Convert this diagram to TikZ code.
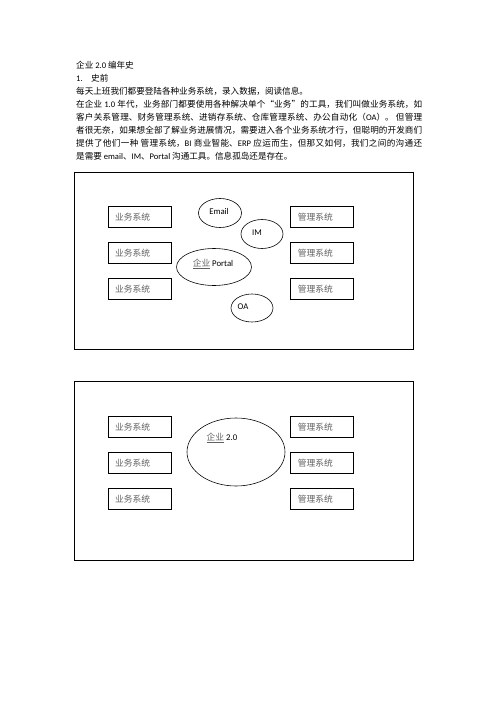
\documentclass[tikz,border=0pt]{standalone}
\usepackage{fontspec}
\setmainfont{Noto Sans CJK SC}
\newfontfamily\latnfont{Carlito}
\newcommand{\latn}[1]{{\latnfont #1}}
\usetikzlibrary{positioning,shapes.geometric}
\definecolor{boxtext}{gray}{0.38}
\XeTeXlinebreaklocale "zh"
\XeTeXlinebreakskip=0pt plus 1pt

\begin{document}
\begin{tikzpicture}[x=1.2pt, y=-1.2pt, node distance={17.4pt and 142.8pt},
        font=\fontsize{10.5pt}{12pt}\selectfont,
        frame/.style = {draw, line width=1pt, minimum width=406.8pt, inner sep=0},
        sysbox/.style = {draw, line width=1pt, minimum width=75.6pt, minimum height=24.6pt,
            text width=58.8pt, inner xsep=8.4pt, inner ysep=0, text=boxtext},
        bubble/.style = {draw, ellipse, line width=0.7pt, inner sep=0},
        lbl/.style = {inner sep=0}]

    \useasboundingbox (0,0) rectangle (496,702);

    % heading and text
    \node[anchor=base west, inner sep=0, text width=415.2pt, align=justify,
        font=\fontsize{10.3pt}{15.6pt}\selectfont] (intro) at (76,68.5) {%
        企业 \latn{2.0} 编年史\par
        \makebox[18pt][l]{\latn{1.}}史前\par
        每天上班我们都要登陆各种业务系统，录入数据，阅读信息。\par
        在企业 \latn{1.0} 年代，业务部门都要使用各种解决单个“业务”的工具，我们叫做业务系统，如\linebreak
        客户关系管理、财务管理系统、进销存系统、仓库管理系统、办公自动化（\latn{OA}）。 但管理\linebreak
        者很无奈，如果想全部了解业务进展情况，需要进入各个业务系统才行，但聪明的开发商们\linebreak
        提供了他们一种 管理系统，\latn{BI} 商业智能、\latn{ERP} 应运而生，但那又如何，我们之间的沟通还\linebreak
        是需要 \latn{email}、\latn{IM}、\latn{Portal} 沟通工具。信息孤岛还是存在。};

    % enterprise 1.0
    \node[frame, minimum height=212.4pt] (frame1) at (243.5,260.5) {};

    \node[sysbox] (biz1) at (139.5,217) {业务系统};
    \node[sysbox, below=of biz1] (biz2) {业务系统};
    \node[sysbox, below=of biz2] (biz3) {业务系统};
    \node[sysbox, right=of biz1] (mgmt1) {管理系统};
    \node[sysbox, right=of biz2] (mgmt2) {管理系统};
    \node[sysbox, right=of biz3] (mgmt3) {管理系统};

    \node[bubble, minimum width=51.6pt, minimum height=34.8pt] (email) at (220,213) {};
    \node[bubble, minimum width=50.4pt, minimum height=34.8pt] (im) at (262,234) {};
    \node[bubble, minimum width=90pt, minimum height=44.4pt] (portal) at (214,267) {};
    \node[bubble, minimum width=50.4pt, minimum height=33.6pt] (oa) at (252,308) {};

    \node[lbl] (emailtext) at (219,211) {\latn{Email}};
    \node[lbl] (imtext) at (257,233) {\latn{IM}};
    \node[lbl] (portaltext) at (213,264) {{\color{boxtext}\underline{企业}} \latn{Portal}};
    \node[lbl] (oatext) at (243,307) {\latn{OA}};

    % enterprise 2.0
    \node[frame, minimum height=214.8pt] (frame2) at (243.5,470.5) {};

    \node[sysbox] (biz4) at (139.5,427) {业务系统};
    \node[sysbox, below=of biz4] (biz5) {业务系统};
    \node[sysbox, below=of biz5] (biz6) {业务系统};
    \node[sysbox, right=of biz4] (mgmt4) {管理系统};
    \node[sysbox, right=of biz5] (mgmt5) {管理系统};
    \node[sysbox, right=of biz6] (mgmt6) {管理系统};

    \node[bubble, minimum width=117.6pt, minimum height=81.6pt] (ent2) at (236,452) {};
    \node[lbl] (ent2text) at (222,438) {{\color{boxtext}\underline{企业}} \latn{2.0}};

\end{tikzpicture}
\end{document}
